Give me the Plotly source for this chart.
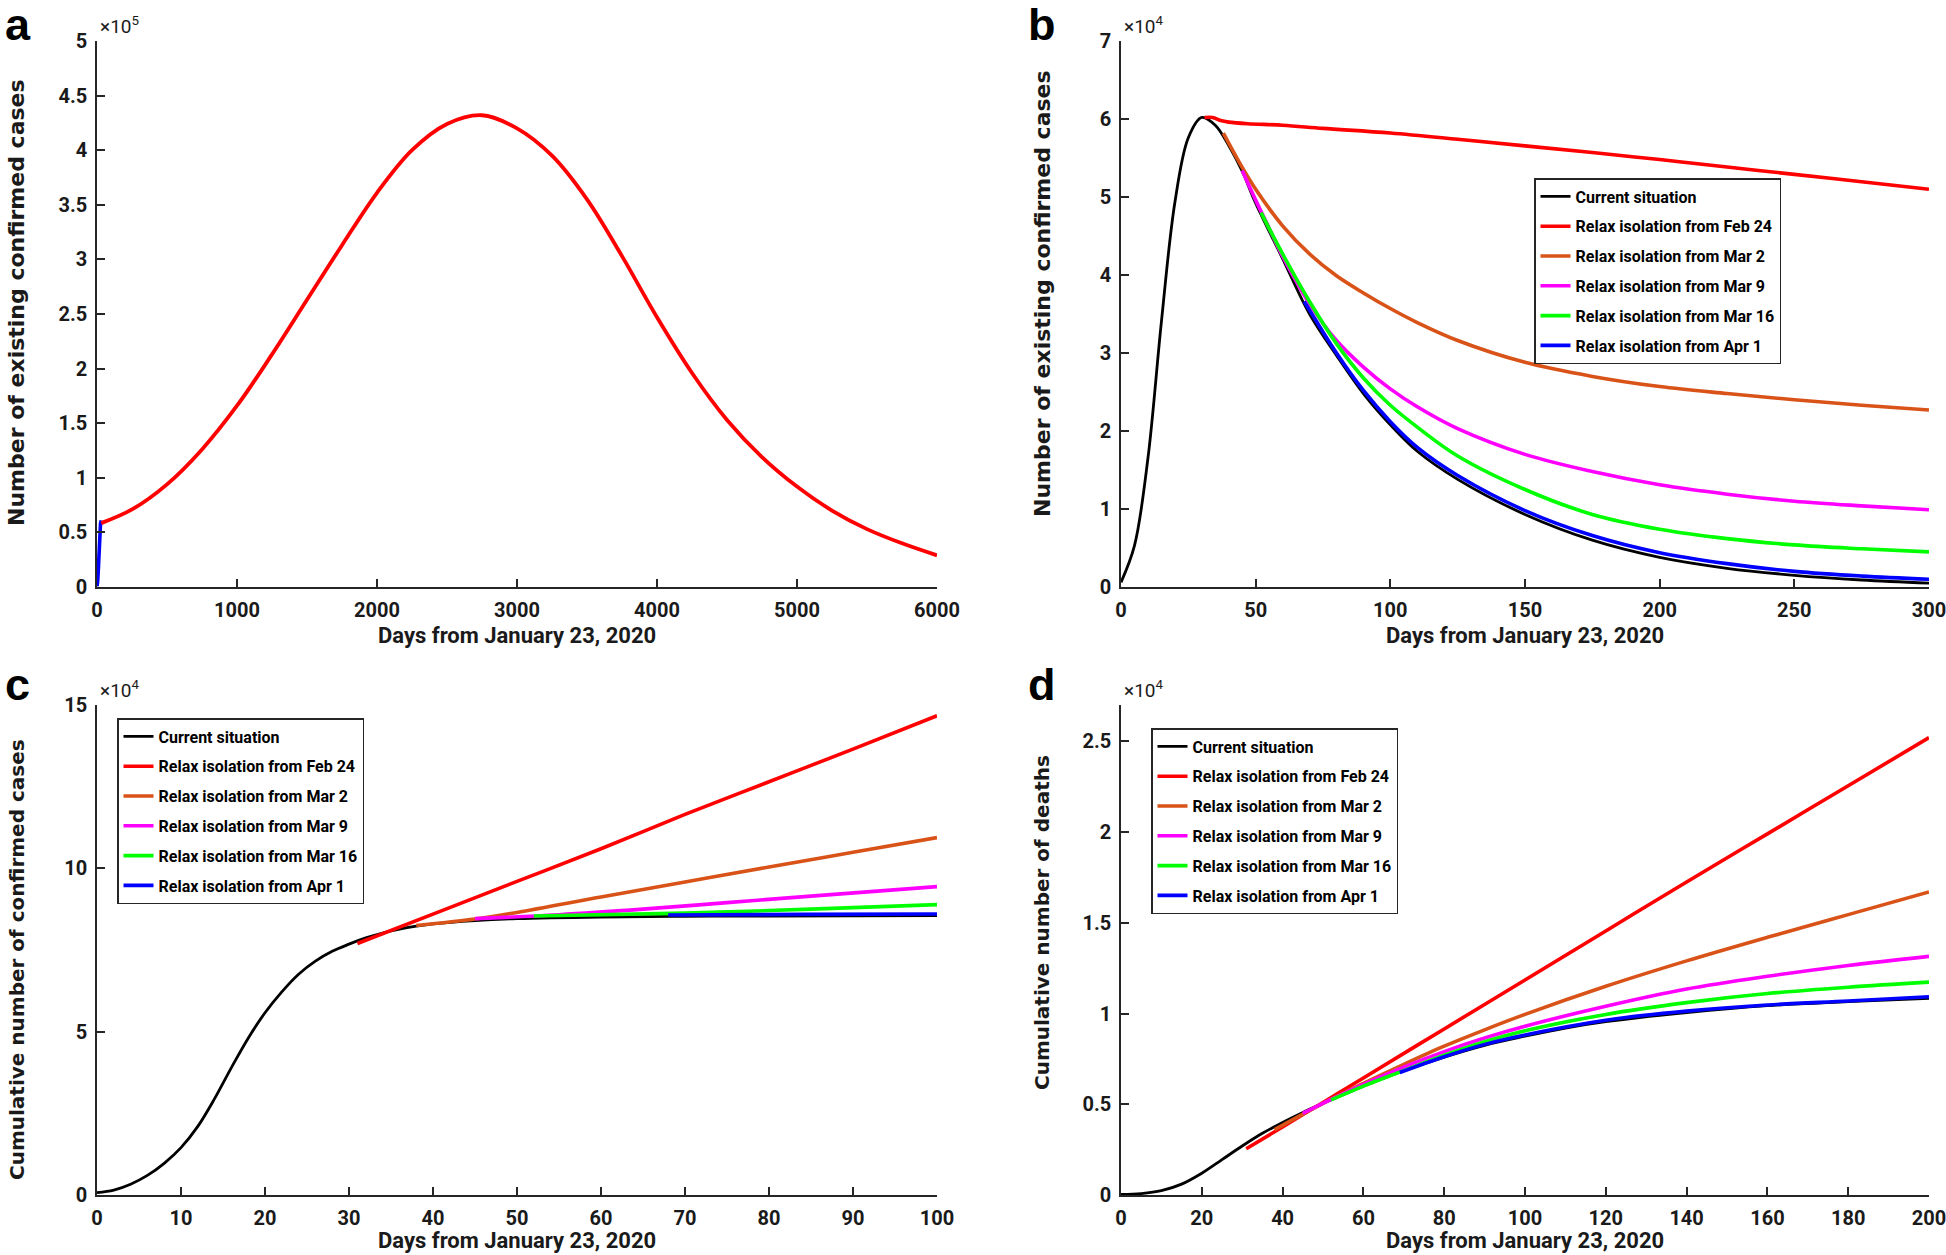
import plotly.graph_objects as go

# ---------------- data ----------------
SERIES_NAMES = ["Current situation", "Relax isolation from Feb 24", "Relax isolation from Mar 2",
                "Relax isolation from Mar 9", "Relax isolation from Mar 16", "Relax isolation from Apr 1"]
SERIES_COLORS = ["#000000", "#FF0000", "#D95319", "#FF00FF", "#00FF00", "#0000FF"]

# Panel a: existing confirmed cases (x10^5)
A_BLUE_DAYS = [0, 5, 10, 15, 20, 25, 30]
A_BLUE = [0.006, 0.055, 0.17, 0.34, 0.50, 0.58, 0.61]
A_RED_DAYS = [30, 250, 500, 750, 1000, 1250, 1500, 1750, 2000, 2250, 2500, 2750, 3000, 3250,
              3500, 3750, 4000, 4250, 4500, 4750, 5000, 5250, 5500, 5750, 6000]
A_RED = [0.585, 0.71, 0.94, 1.26, 1.66, 2.13, 2.63, 3.13, 3.61, 4.00, 4.24, 4.32, 4.20, 3.95,
         3.55, 3.03, 2.47, 1.96, 1.53, 1.19, 0.92, 0.70, 0.53, 0.40, 0.29]

# Panel b: existing confirmed cases (x10^4)
B_BLACK_DAYS = [0, 5, 10, 15, 20, 25, 30, 35, 40, 45, 50, 60, 70, 80, 90, 100, 110, 125, 150,
                175, 200, 225, 250, 275, 300]
B_BLACK = [0.06, 0.53, 1.65, 3.40, 4.93, 5.76, 6.02, 5.92, 5.66, 5.33, 4.92, 4.21, 3.50, 2.97,
           2.48, 2.08, 1.74, 1.38, 0.93, 0.60, 0.38, 0.24, 0.15, 0.09, 0.05]
B_RED_DAYS = [31, 34, 37, 40, 47, 60, 75, 100, 125, 150, 175, 200, 225, 250, 275, 300]
B_RED = [6.02, 6.02, 5.98, 5.96, 5.94, 5.92, 5.88, 5.82, 5.74, 5.655, 5.57, 5.48, 5.385, 5.29, 5.195, 5.10]
B_ORANGE_DAYS = [38, 45, 50, 60, 70, 80, 90, 100, 110, 125, 150, 175, 200, 225, 250, 275, 300]
B_ORANGE = [5.82, 5.38, 5.10, 4.63, 4.27, 3.99, 3.77, 3.57, 3.39, 3.16, 2.88, 2.70, 2.57, 2.48,
            2.40, 2.33, 2.27]
B_MAGENTA_DAYS = [45, 50, 55, 60, 70, 80, 90, 100, 110, 125, 150, 175, 200, 225, 250, 275, 300]
B_MAGENTA = [5.34, 4.96, 4.60, 4.24, 3.63, 3.16, 2.82, 2.54, 2.31, 2.03, 1.70, 1.48, 1.31, 1.19,
             1.10, 1.04, 0.99]
B_GREEN_DAYS = [52, 60, 70, 80, 90, 100, 110, 125, 150, 175, 200, 225, 250, 275, 300]
B_GREEN = [4.80, 4.27, 3.66, 3.12, 2.68, 2.33, 2.05, 1.68, 1.25, 0.93, 0.74, 0.62, 0.54, 0.49, 0.45]
B_BLUE_DAYS = [68, 70, 80, 90, 100, 110, 125, 150, 175, 200, 225, 250, 275, 300]
B_BLUE = [3.66, 3.55, 3.00, 2.52, 2.12, 1.79, 1.43, 0.98, 0.66, 0.44, 0.30, 0.20, 0.14, 0.10]

# Panel c: cumulative confirmed cases (x10^4)
C_BLACK_DAYS = [0, 2, 4, 6, 8, 10, 12, 14, 16, 18, 20, 22, 24, 26, 28, 30, 32, 34, 36, 38, 40,
                45, 50, 60, 70, 80, 100]
C_BLACK = [0.07, 0.15, 0.33, 0.60, 0.97, 1.45, 2.10, 2.95, 3.90, 4.80, 5.58, 6.22, 6.76, 7.16,
           7.46, 7.68, 7.87, 8.02, 8.14, 8.23, 8.30, 8.40, 8.46, 8.51, 8.53, 8.54, 8.55]
C_RED_DAYS = [31, 40, 50, 60, 70, 80, 90, 100]
C_RED = [7.70, 8.60, 9.60, 10.60, 11.65, 12.65, 13.65, 14.67]
C_ORANGE_DAYS = [38, 45, 50, 60, 70, 80, 90, 100]
C_ORANGE = [8.25, 8.45, 8.65, 9.12, 9.58, 10.04, 10.49, 10.94]
C_MAGENTA_DAYS = [45, 55, 65, 75, 85, 100]
C_MAGENTA = [8.46, 8.58, 8.75, 8.95, 9.15, 9.44]
C_GREEN_DAYS = [52, 70, 85, 100]
C_GREEN = [8.54, 8.63, 8.75, 8.89]
C_BLUE_DAYS = [68, 84, 100]
C_BLUE = [8.57, 8.59, 8.60]

# Panel d: cumulative deaths (x10^4)
D_BLACK_DAYS = [0, 5, 10, 15, 20, 25, 30, 35, 40, 45, 50, 60, 70, 80, 90, 100, 110, 120, 140,
                160, 180, 200]
D_BLACK = [0.003, 0.008, 0.024, 0.06, 0.12, 0.195, 0.27, 0.34, 0.40, 0.455, 0.505, 0.60, 0.685,
           0.76, 0.825, 0.875, 0.92, 0.955, 1.005, 1.043, 1.065, 1.084]
D_RED_DAYS = [31, 40, 50, 60, 80, 100, 120, 140, 160, 180, 200]
D_RED = [0.255, 0.375, 0.51, 0.645, 0.915, 1.185, 1.455, 1.725, 1.99, 2.255, 2.52]
D_ORANGE_DAYS = [38, 50, 60, 70, 80, 90, 100, 120, 140, 160, 180, 200]
D_ORANGE = [0.36, 0.505, 0.615, 0.72, 0.82, 0.91, 0.995, 1.15, 1.29, 1.42, 1.545, 1.67]
D_MAGENTA_DAYS = [45, 52, 60, 70, 80, 90, 100, 120, 140, 160, 180, 200]
D_MAGENTA = [0.45, 0.527, 0.61, 0.705, 0.79, 0.865, 0.93, 1.04, 1.135, 1.205, 1.265, 1.315]
D_GREEN_DAYS = [52, 60, 69, 80, 90, 100, 120, 140, 160, 180, 200]
D_GREEN = [0.524, 0.60, 0.677, 0.77, 0.845, 0.905, 0.995, 1.06, 1.11, 1.145, 1.173]
D_BLUE_DAYS = [69, 80, 90, 100, 120, 140, 160, 180, 200]
D_BLUE = [0.675, 0.762, 0.83, 0.882, 0.963, 1.013, 1.047, 1.069, 1.092]

# Tick values / labels
A_XTICKS = [0, 1000, 2000, 3000, 4000, 5000, 6000]
A_YTICKS = [0, 0.5, 1, 1.5, 2, 2.5, 3, 3.5, 4, 4.5, 5]
A_YTICKTEXT = ["0", "0.5", "1", "1.5", "2", "2.5", "3", "3.5", "4", "4.5", "5"]
B_XTICKS = [0, 50, 100, 150, 200, 250, 300]
B_YTICKS = [0, 1, 2, 3, 4, 5, 6, 7]
C_XTICKS = [0, 10, 20, 30, 40, 50, 60, 70, 80, 90, 100]
C_YTICKS = [0, 5, 10, 15]
D_XTICKS = [0, 20, 40, 60, 80, 100, 120, 140, 160, 180, 200]
D_YTICKS = [0, 0.5, 1, 1.5, 2, 2.5]
D_YTICKTEXT = ["0", "0.5", "1", "1.5", "2", "2.5"]

X_TITLE = "Days from January 23, 2020"

# ---------------- layout helpers ----------------
W, H = 1946, 1255
NARROW = "Roboto, Liberation Sans, sans-serif"
WIDE = "DejaVu Sans, Verdana, sans-serif"
AXCOL = "#262626"


def fx(px):
    return px / W


def fy(py):
    return 1 - py / H


PANELS = {
    "a": dict(x=(97, 937), y=(41, 587)),
    "b": dict(x=(1121, 1929), y=(41, 587)),
    "c": dict(x=(97, 937), y=(705, 1195)),
    "d": dict(x=(1121, 1929), y=(705, 1195)),
}


def axis(domain, rng, tickvals, ticktext, anchor):
    return dict(domain=list(domain), range=rng, anchor=anchor, tickvals=tickvals,
                ticktext=ticktext, showline=True, linecolor=AXCOL, linewidth=1.6,
                ticks="inside", ticklen=8, tickwidth=1.6, tickcolor=AXCOL,
                showgrid=False, zeroline=False, mirror=False, ticklabelstandoff=4,
                automargin=False, ticklabeloverflow="allow",
                tickfont=dict(family=NARROW, size=20, color="#1a1a1a", weight="bold"))


fig = go.Figure()

# panel a
fig.add_trace(go.Scatter(x=A_BLUE_DAYS, y=A_BLUE, mode="lines", line=dict(color="#0000FF", width=3.6),
                         xaxis="x", yaxis="y", showlegend=False))
fig.add_trace(go.Scatter(x=A_RED_DAYS, y=A_RED, mode="lines",
                         line=dict(color="#FF0000", width=3.8, shape="spline"),
                         xaxis="x", yaxis="y", showlegend=False))

panel_data = {
    "b": [(B_BLACK_DAYS, B_BLACK), (B_RED_DAYS, B_RED), (B_ORANGE_DAYS, B_ORANGE),
          (B_MAGENTA_DAYS, B_MAGENTA), (B_GREEN_DAYS, B_GREEN), (B_BLUE_DAYS, B_BLUE)],
    "c": [(C_BLACK_DAYS, C_BLACK), (C_RED_DAYS, C_RED), (C_ORANGE_DAYS, C_ORANGE),
          (C_MAGENTA_DAYS, C_MAGENTA), (C_GREEN_DAYS, C_GREEN), (C_BLUE_DAYS, C_BLUE)],
    "d": [(D_BLACK_DAYS, D_BLACK), (D_RED_DAYS, D_RED), (D_ORANGE_DAYS, D_ORANGE),
          (D_MAGENTA_DAYS, D_MAGENTA), (D_GREEN_DAYS, D_GREEN), (D_BLUE_DAYS, D_BLUE)],
}
axes_ids = {"b": ("x2", "y2", "legend"), "c": ("x3", "y3", "legend2"), "d": ("x4", "y4", "legend3")}

for p, series in panel_data.items():
    xa, ya, lg = axes_ids[p]
    for i, (xs, ys) in enumerate(series):
        fig.add_trace(go.Scatter(
            x=xs, y=ys, mode="lines", name=SERIES_NAMES[i],
            line=dict(color=SERIES_COLORS[i], width=2.8 if i == 0 else 3.6, shape="spline"),
            xaxis=xa, yaxis=ya, legend=lg, legendgroup=f"{p}{i}"))


def legend(xpx, ypx):
    return dict(x=fx(xpx), y=fy(ypx), xanchor="left", yanchor="top", bgcolor="white",
                bordercolor=AXCOL, borderwidth=1.5, traceorder="grouped", tracegroupgap=6,
                itemwidth=30,
                font=dict(family=NARROW, size=16, color="black", weight="bold"))


layout = dict(
    width=W, height=H, margin=dict(l=0, r=0, t=0, b=0, pad=0, autoexpand=False), autosize=False,
    paper_bgcolor="white", plot_bgcolor="white",
    legend=legend(1534, 178), legend2=legend(117, 718), legend3=legend(1151, 728),
)

specs = [("a", "xaxis", "yaxis", "x", "y", [0, 6000], [0, 5], A_XTICKS, A_YTICKS, A_YTICKTEXT),
         ("b", "xaxis2", "yaxis2", "x2", "y2", [0, 300], [0, 7], B_XTICKS, B_YTICKS, None),
         ("c", "xaxis3", "yaxis3", "x3", "y3", [0, 100], [0, 15], C_XTICKS, C_YTICKS, None),
         ("d", "xaxis4", "yaxis4", "x4", "y4", [0, 200], [0, 2.7], D_XTICKS, D_YTICKS, D_YTICKTEXT)]
for p, xk, yk, xid, yid, xr, yr, xt, yt, ytt in specs:
    P = PANELS[p]
    xdom = (fx(P["x"][0]), fx(P["x"][1]))
    ydom = (fy(P["y"][1]), fy(P["y"][0]))
    layout[xk] = axis(xdom, xr, xt, [str(v) for v in xt], yid)
    layout[yk] = axis(ydom, yr, yt, ytt if ytt else [str(v) for v in yt], xid)

annotations = []
# panel letters (anchored at the bottom of the text box, just under the baseline)
for letter, (lx, by) in {"a": (3, 52), "b": (1026, 52), "c": (3, 712), "d": (1026, 712)}.items():
    annotations.append(dict(text=letter, x=fx(lx), y=fy(by), xref="paper", yref="paper",
                            xanchor="left", yanchor="bottom", showarrow=False,
                            font=dict(family="Liberation Sans, Arial, sans-serif", size=45,
                                      color="black", weight="bold")))
# exponent labels
for p, e in {"a": 5, "b": 4, "c": 4, "d": 4}.items():
    P = PANELS[p]
    annotations.append(dict(text=f"×10<sup>{e}</sup>", x=fx(P["x"][0] + 1), y=fy(P["y"][0] - 1),
                            xref="paper", yref="paper", xanchor="left", yanchor="bottom",
                            showarrow=False, font=dict(family=NARROW, size=19, color="#1a1a1a")))
# x titles
for p in "abcd":
    P = PANELS[p]
    cy = 635 if p in "ab" else 1240
    annotations.append(dict(text=X_TITLE, x=fx((P["x"][0] + P["x"][1]) / 2), y=fy(cy),
                            xref="paper", yref="paper", xanchor="center", yanchor="middle",
                            showarrow=False,
                            font=dict(family=NARROW, size=22, color="#1a1a1a", weight="bold")))
# y titles
YTITLES = [("Number of existing confirmed cases", 17, 303, 22),
           ("Number of existing confirmed cases", 1042, 294, 22),
           ("Cumulative number of confirmed cases", 17, 960, 20),
           ("Cumulative number of deaths", 1042, 923, 20)]
for txt, cx, cy, sz in YTITLES:
    annotations.append(dict(text=txt, x=fx(cx), y=fy(cy), xref="paper", yref="paper",
                            xanchor="center", yanchor="middle", textangle=-90, showarrow=False,
                            font=dict(family=WIDE, size=sz, color="#1a1a1a", weight="bold")))
layout["annotations"] = annotations

fig.update_layout(**layout)
fig.write_html("out.html", config={"responsive": False, "displayModeBar": False},
               post_script="document.body.style.margin='0';document.body.style.overflow='hidden';")
